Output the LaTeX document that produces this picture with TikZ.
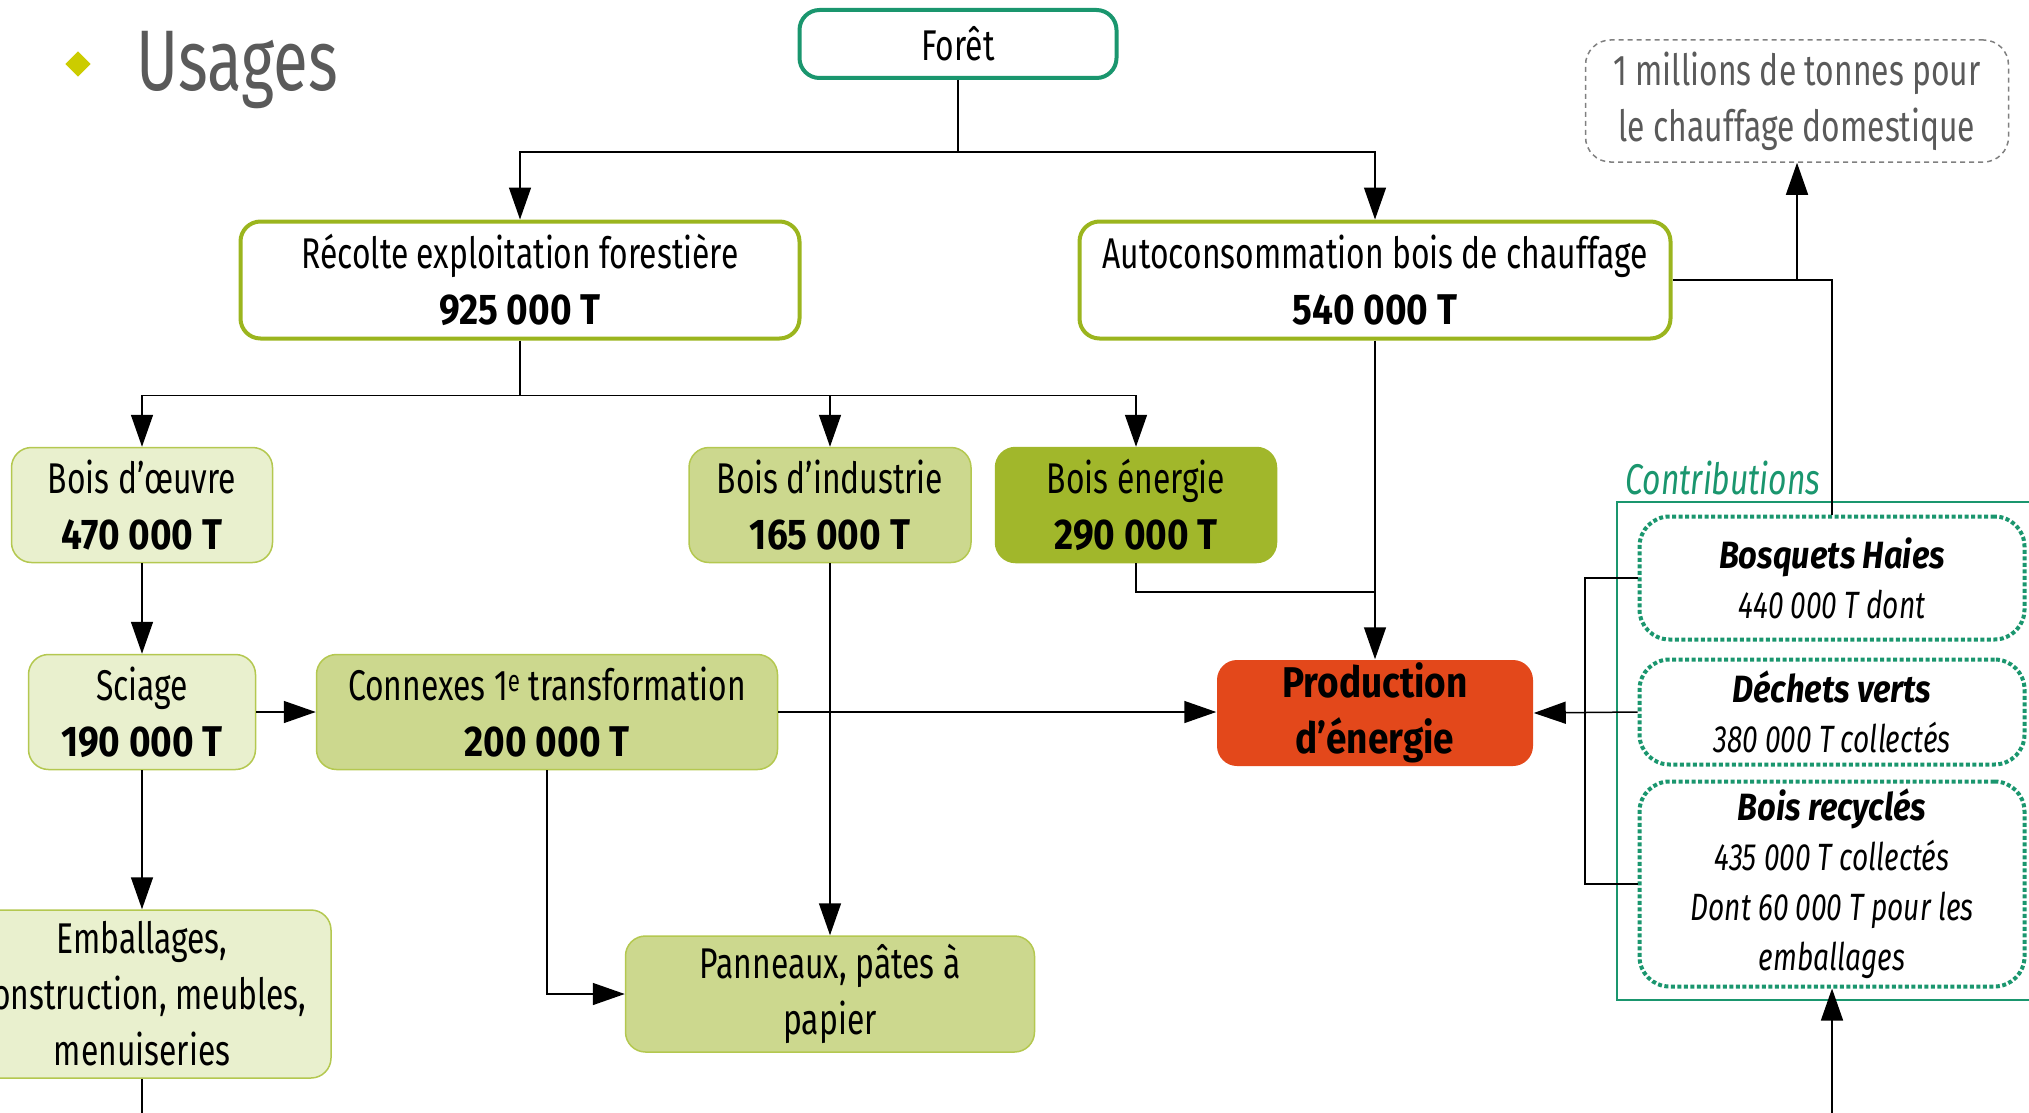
\documentclass[tikz,border=0pt]{standalone}
\usepackage{fontspec}
\setmainfont{Fira Sans}[FakeStretch=0.74,
  BoldFeatures={FakeStretch=0.86}, BoldItalicFeatures={FakeStretch=0.86}]
\usetikzlibrary{arrows.meta, positioning, shapes.geometric}
\definecolor{sapin}{RGB}{26,150,110}
\definecolor{mousse}{RGB}{155,181,30}
\definecolor{bord}{RGB}{180,200,80}
\definecolor{tendre}{RGB}{233,240,206}
\definecolor{feuille}{RGB}{204,216,142}
\definecolor{olivier}{RGB}{161,183,43}
\definecolor{braise}{RGB}{227,72,27}
\definecolor{cendre}{RGB}{90,90,90}
\definecolor{puce}{RGB}{204,204,0}
\tikzset{
  >={Triangle[length=32pt,width=22pt]},
  every node/.style={align=center, inner sep=0pt, font=\fontsize{43}{56}\selectfont},
  haut/.style={rounded corners=20pt, line width=4pt, draw=mousse, fill=white},
  etape/.style={rounded corners=20pt, line width=1.5pt, draw=bord},
  clair/.style={etape, fill=tendre},
  moyen/.style={etape, fill=feuille},
  fonce/.style={etape, fill=olivier, draw=olivier},
  apport/.style={draw=sapin, line width=4pt, dash pattern=on 4pt off 2.5pt,
    rounded corners=30pt, fill=white, minimum width=385pt,
    font=\fontsize{38}{50}\selectfont\itshape},
}

\begin{document}
\begin{tikzpicture}[x=1pt, y=-1pt, line width=1.5pt]
  \useasboundingbox (0,0) rectangle (2029,1113);
  \clip (0,0) rectangle (2029,1113);

  % titre
  \node[diamond, fill=puce, minimum size=26pt] (puce) at (78,64) {};
  \node[anchor=base west, text=cendre, font=\fontsize{86}{100}\selectfont] (titre) at (136,91) {Usages};

  % cadre des contributions
  \draw[sapin, line width=2pt] (2040,502) -| (1617,1000) -- (2040,1000);
  \node[anchor=base west, text=sapin, font=\fontsize{43}{56}\selectfont\itshape] (contrib) at (1625,494) {Contributions};

  % boites
  \node[haut, draw=sapin, minimum width=317pt, minimum height=68pt] (foret) at (958,44) {Forêt};
  \node[haut, minimum width=559pt, minimum height=117pt] (recolte) at (520,280) {Récolte exploitation forestière\\\textbf{925 000 T}};
  \node[haut, minimum width=591pt, minimum height=117pt] (autocons) at (1375,280) {Autoconsommation bois de chauffage\\\textbf{540 000 T}};
  \node[draw=gray, dash pattern=on 5pt off 4pt, rounded corners=25pt, text=cendre,
    minimum width=423pt, minimum height=122pt] (chauffage) at (1797,101) {1 millions de tonnes pour\\le chauffage domestique};

  \node[clair, minimum width=261pt, minimum height=115pt] (oeuvre) at (142,505) {Bois d’œuvre\\\textbf{470 000 T}};
  \node[moyen, minimum width=282pt, minimum height=115pt] (industrie) at (830,505) {Bois d’industrie\\\textbf{165 000 T}};
  \node[fonce, minimum width=281pt, minimum height=115pt] (energie) at (1136,505) {Bois énergie\\\textbf{290 000 T}};

  \node[clair, minimum width=227pt, minimum height=115pt] (sciage) at (142,712) {Sciage\\\textbf{190 000 T}};
  \node[moyen, minimum width=461pt, minimum height=115pt] (connexes) at (547,712) {Connexes 1\textsuperscript{e} transformation\\\textbf{200 000 T}};
  \node[fill=braise, rounded corners=20pt, font=\fontsize{43}{56}\selectfont\bfseries,
    minimum width=316pt, minimum height=106pt] (production) at (1375,713) {Production\\d’énergie};

  \node[clair, minimum width=378pt, minimum height=168pt] (emballages) at (142,994) {Emballages,\\construction, meubles,\\menuiseries};
  \node[moyen, minimum width=409pt, minimum height=116pt] (panneaux) at (830,994) {Panneaux, pâtes à\\papier};

  \node[apport, minimum height=123pt] (bosquets) at (1832,578) {\textbf{Bosquets Haies}\\440 000 T dont};
  \node[apport, minimum height=105pt] (dechets) at (1832,712) {\textbf{Déchets verts}\\380 000 T collectés};
  \node[apport, minimum height=205pt] (recycles) at (1832,884) {\textbf{Bois recyclés}\\435 000 T collectés\\Dont 60 000 T pour les\\emballages};

  \coordinate (bas1) at (142,1120);
  \coordinate (bas2) at (1832,1120);

  % liaisons
  \draw (foret.south) -- ++(0,72) coordinate (f1);
  \draw[->] (f1) -| (recolte.north);
  \draw[->] (f1) -| (autocons.north);
  \draw (recolte.south) -- ++(0,55) coordinate (r1);
  \draw[->] (r1) -| (oeuvre.north);
  \draw[->] (r1) -| (industrie.north);
  \draw[->] (r1) -| (energie.north);
  \draw[->] (oeuvre) -- (sciage);
  \draw[->] (sciage) -- (emballages);
  \draw (emballages.south) -- (bas1);
  \draw[->] (sciage) -- (connexes);
  \draw[->] (connexes.east) -- (connexes.east -| production.west);
  \draw[->] (connexes.south) |- (panneaux.west);
  \draw[->] (industrie) -- (panneaux);
  \draw (energie.south) |- (autocons.south |- 0,592);
  \draw[->] (autocons) -- (production);
  \draw[->] (autocons.east) -| (chauffage.south);
  \draw (bosquets.north) |- (chauffage.south |- autocons.east);
  \draw (bosquets.west) -| (1585,712);
  \draw (recycles.west) -| (1585,712);
  \draw[->] (dechets.west) -- (production.east);
  \draw[->] (bas2) -- (recycles.south);
\end{tikzpicture}
\end{document}
